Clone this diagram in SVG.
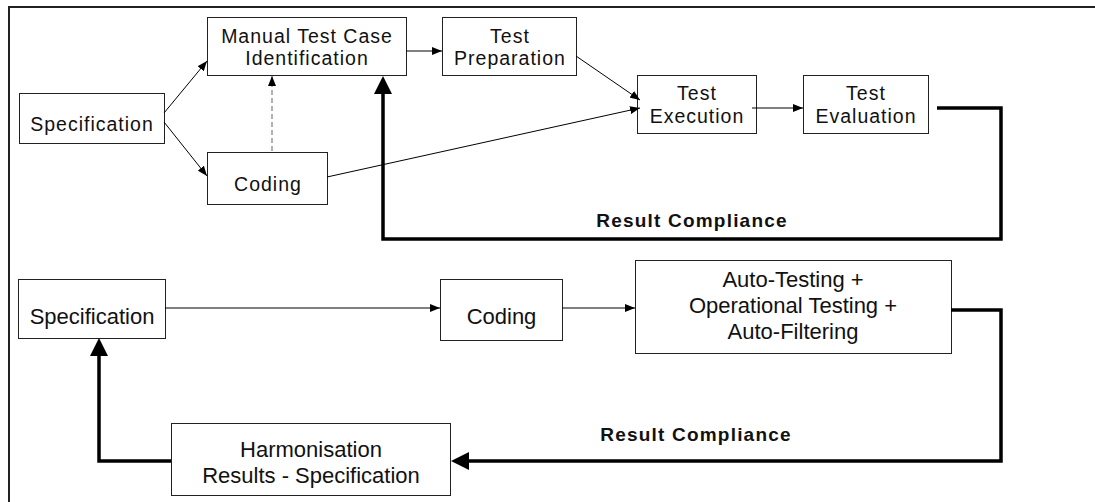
<svg xmlns="http://www.w3.org/2000/svg" width="1095" height="502" viewBox="0 0 1095 502">
  <style>
    .box { fill: #ffffff; stroke: #222222; stroke-width: 1; }
    .t { font-family: "Liberation Sans", Arial, sans-serif; font-size: 19.5px; letter-spacing: 1px; fill: #111111; text-anchor: middle; }
    .b { font-family: "Liberation Sans", Arial, sans-serif; font-size: 22px; fill: #111111; text-anchor: middle; }
    .lbl { font-family: "Liberation Sans", Arial, sans-serif; font-size: 19px; font-weight: bold; letter-spacing: 1.2px; fill: #111111; text-anchor: middle; }
    .thin { fill: none; stroke: #000000; stroke-width: 1; marker-end: url(#head); }
    .dash { fill: none; stroke: #888888; stroke-width: 1.3; stroke-dasharray: 5 3; marker-end: url(#head); }
    .thick { fill: none; stroke: #000000; stroke-width: 3.5; stroke-linejoin: miter; marker-end: url(#bighead); }
  </style>
  <defs>
    <marker id="head" viewBox="0 0 10 8" refX="10" refY="4" markerWidth="10" markerHeight="8" markerUnits="userSpaceOnUse" orient="auto">
      <path d="M0,0 L10,4 L0,8 z" fill="#000000"/>
    </marker>
    <marker id="bighead" viewBox="0 0 18 18" refX="8" refY="9" markerWidth="18" markerHeight="18" markerUnits="userSpaceOnUse" orient="auto">
      <path d="M0,0 L18,9 L0,18 z" fill="#000000"/>
    </marker>
  </defs>

  <!-- frame -->
  <path d="M9,502 V7 H1095" fill="none" stroke="#222222" stroke-width="2"/>

  <!-- manual testing workflow -->
  <g id="spec1">
    <rect class="box" x="19.5" y="93.5" width="145" height="50"/>
    <text class="t" x="92" y="131">Specification</text>
  </g>
  <g id="manual">
    <rect class="box" x="207.5" y="17.5" width="199" height="58"/>
    <text class="t" x="307" y="43">Manual Test Case</text>
    <text class="t" x="307" y="65">Identification</text>
  </g>
  <g id="coding1">
    <rect class="box" x="207.5" y="152.5" width="120" height="52"/>
    <text class="t" x="268" y="191">Coding</text>
  </g>
  <g id="prep">
    <rect class="box" x="442.5" y="17.5" width="134" height="58"/>
    <text class="t" x="510" y="43">Test</text>
    <text class="t" x="510" y="65">Preparation</text>
  </g>
  <g id="exec">
    <rect class="box" x="637.5" y="75.5" width="119" height="58"/>
    <text class="t" x="697" y="100">Test</text>
    <text class="t" x="697" y="123">Execution</text>
  </g>
  <g id="eval">
    <rect class="box" x="803.5" y="75.5" width="125" height="58"/>
    <text class="t" x="866" y="100">Test</text>
    <text class="t" x="866" y="123">Evaluation</text>
  </g>

  <!-- automated workflow -->
  <g id="spec2">
    <rect class="box" x="18.5" y="279.5" width="147" height="59"/>
    <text class="b" x="92" y="324">Specification</text>
  </g>
  <g id="coding2">
    <rect class="box" x="440.5" y="279.5" width="122" height="61"/>
    <text class="b" x="501.5" y="324">Coding</text>
  </g>
  <g id="auto">
    <rect class="box" x="635.5" y="260.5" width="316" height="93"/>
    <text class="b" x="793" y="287">Auto-Testing +</text>
    <text class="b" x="793" y="313">Operational Testing +</text>
    <text class="b" x="793" y="339">Auto-Filtering</text>
  </g>
  <g id="harm">
    <rect class="box" x="171.5" y="423.5" width="279" height="72"/>
    <text class="b" x="311" y="457">Harmonisation</text>
    <text class="b" x="311" y="483">Results - Specification</text>
  </g>

  <g id="connectors">
    <path class="thin" d="M164,113 L207,61"/>
    <path class="thin" d="M164,122 L207,176"/>
    <path class="dash" d="M272,151 V76"/>
    <path class="thin" d="M406,51 H442"/>
    <path class="thin" d="M576,56 L640,100"/>
    <path class="thin" d="M327,177 L640,108"/>
    <path class="thin" d="M752,108 H803"/>
    <path class="thick" d="M937,108 H1001 V239 H383 V86"/>
    <text class="lbl" x="692" y="227">Result Compliance</text>

    <path class="thin" d="M165,308 H440"/>
    <path class="thin" d="M562,308 H635"/>
    <path class="thick" d="M951,310 H1001 V461 H461"/>
    <path class="thick" d="M171,461 H99 V348"/>
    <text class="lbl" x="696" y="441">Result Compliance</text>
  </g>
</svg>
